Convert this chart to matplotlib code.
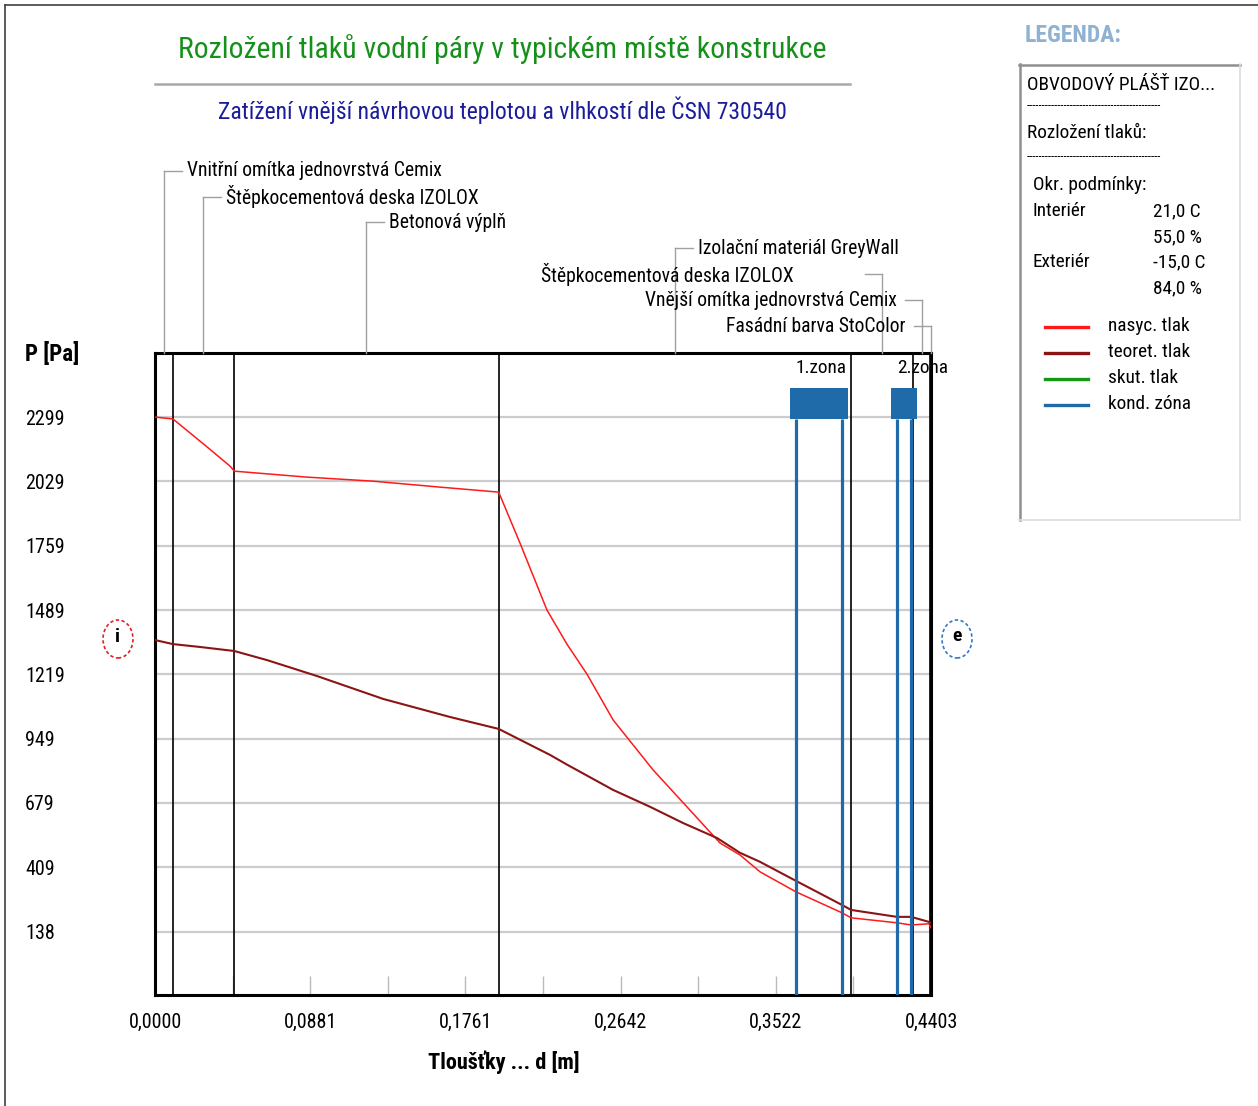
import matplotlib
matplotlib.use("Agg")
import matplotlib.pyplot as plt
from matplotlib import font_manager as fm
from matplotlib.patches import Ellipse, Rectangle
from matplotlib.lines import Line2D

# ---------------- data ----------------
layer_names = ["Vnitřní omítka jednovrstvá Cemix", "Štěpkocementová deska IZOLOX",
               "Betonová výplň", "Izolační materiál GreyWall",
               "Štěpkocementová deska IZOLOX", "Vnější omítka jednovrstvá Cemix",
               "Fasádní barva StoColor"]
layer_bounds = [0.0, 0.01, 0.045, 0.195, 0.395, 0.43, 0.44, 0.4403]

x_sat = [0.0, 0.0102, 0.0295, 0.0426, 0.045, 0.0862, 0.1237, 0.1617, 0.195, 0.2071,
         0.2224, 0.2338, 0.2451, 0.2599, 0.2826, 0.3018, 0.3206, 0.3319, 0.3433,
         0.3637, 0.3898, 0.395, 0.421, 0.429, 0.4391, 0.4403]
p_sat = [2299, 2291, 2174, 2093, 2072, 2047, 2030, 2005, 1984, 1770,
         1489, 1345, 1220, 1028, 818, 663, 511, 461, 390,
         306, 218, 197, 176, 167, 172, 155]

x_teor = [0.0, 0.0102, 0.0255, 0.045, 0.0635, 0.0919, 0.1294, 0.1674, 0.195, 0.2241,
          0.2338, 0.2599, 0.2809, 0.2996, 0.3189, 0.3319, 0.3433, 0.3637, 0.3898,
          0.395, 0.421, 0.429, 0.4391, 0.4403]
p_teor = [1363, 1346, 1334, 1317, 1279, 1212, 1116, 1040, 990, 881,
          840, 734, 663, 595, 532, 470, 432, 352, 251,
          230, 201, 201, 180, 176]

zone_start = [0.3637, 0.421]
zone_end = [0.3898, 0.429]
zone_labels = ["1.zona", "2.zona"]

y_ticks = [2299, 2029, 1759, 1489, 1219, 949, 679, 409, 138]
x_ticks = [0.0, 0.0881, 0.1761, 0.2642, 0.3522, 0.4403]
x_minor = [0.0440, 0.1321, 0.2201, 0.3082, 0.3962]
x_tick_labels = ["0,0000", "0,0881", "0,1761", "0,2642", "0,3522", "0,4403"]

title = "Rozložení tlaků vodní páry v typickém místě konstrukce"
subtitle = "Zatížení vnější návrhovou teplotou a vlhkostí dle ČSN 730540"
legend_items = ["nasyc. tlak", "teoret. tlak", "skut. tlak", "kond. zóna"]
legend_colors = ["#ff1a1a", "#8b1515", "#139a13", "#1f6aa8"]

# ---------------- fonts ----------------
names = {f.name for f in fm.fontManager.ttflist}
SC = 1.0 if "Roboto Condensed" in names else 0.82
plt.rcParams["font.family"] = ["Roboto Condensed", "Liberation Sans", "DejaVu Sans"]

W, H = 1258, 1106
fig = plt.figure(figsize=(W / 100, H / 100), dpi=100)


def fx(px):
    return px / W


def fy(py):
    return 1 - py / H


def ftext(px, py, s, size, **kw):
    fig.text(fx(px), fy(py), s, fontsize=size * SC, va="center", **kw)


# outer border (top & left)
fig.add_artist(Line2D([fx(5), 1], [fy(5), fy(5)], color="#404040", lw=1.2))
fig.add_artist(Line2D([fx(5), fx(5)], [fy(5), 0], color="#404040", lw=1.2))

# axes
L, R, T, B = 155, 931, 353, 995
ax = fig.add_axes([fx(L), fy(B), fx(R) - fx(L), fy(T) - fy(B)])
ax.set_xlim(0, 0.4403)
ax.set_ylim(-127, 2568)
for sp in ax.spines.values():
    sp.set_linewidth(2.2)
    sp.set_color("black")

TICK_FS = 14.4
ax.set_yticks(y_ticks)
ax.set_yticklabels([str(v) for v in y_ticks], fontsize=TICK_FS * SC)
ax.tick_params(axis="y", length=0, pad=(L - 25) * 0.72)
for lab in ax.get_yticklabels():
    lab.set_horizontalalignment("left")
ax.grid(axis="y", color="#cccccc", lw=1.6)

ax.set_xticks(x_ticks)
ax.set_xticklabels(x_tick_labels, fontsize=TICK_FS * SC)
ax.set_xticks(x_minor, minor=True)
ax.tick_params(axis="x", which="both", direction="in", length=14, width=1,
               color="#bbbbbb", pad=13)
ax.set_axisbelow(True)

# layer boundaries
for xb in layer_bounds[1:-1]:
    ax.axvline(xb, color="black", lw=1.2, zorder=2)

# curves
ax.plot(x_sat, p_sat, color=legend_colors[0], lw=1.1, zorder=4)
ax.plot(x_teor, p_teor, color=legend_colors[1], lw=1.5, zorder=4)

# condensation zones
for s, e, lab in zip(zone_start, zone_end, zone_labels):
    for xv in (s, e):
        ax.plot([xv, xv], [-127, 2291], color=legend_colors[3], lw=2.3, zorder=5,
                solid_capstyle="butt")
    pad = 0.0034
    ax.add_patch(Rectangle((s - pad, 2291), (e - s) + 2 * pad, 130,
                           color=legend_colors[3], zorder=5, lw=0))
    ax.text(s, 2505, lab, fontsize=13.9 * SC, ha="left", va="center", zorder=6,
            clip_on=False)

# layer labels with leaders
label_y = [171, 197, 222, 248, 274, 300, 326]
mids = [(layer_bounds[i] + layer_bounds[i + 1]) / 2 for i in range(len(layer_names))]
xpx = lambda xm: L + xm / 0.4403 * (R - L)
LAB_FS = 14.1
for i, (name, m, ly) in enumerate(zip(layer_names, mids, label_y)):
    mpx = xpx(m)
    line_kw = dict(color="#a0a0a0", lw=1.0, transform=fig.transFigure, clip_on=False)
    fig.add_artist(Line2D([fx(mpx), fx(mpx)], [fy(ly), fy(T)], **line_kw))
    if i < 4:
        fig.add_artist(Line2D([fx(mpx), fx(mpx + 18)], [fy(ly), fy(ly)], **line_kw))
        ftext(mpx + 23, ly, name, LAB_FS, ha="left")
    else:
        fig.add_artist(Line2D([fx(mpx - 17), fx(mpx)], [fy(ly), fy(ly)], **line_kw))
        end_px = [794, 897, 906][i - 4]
        ftext(end_px, ly, name, LAB_FS, ha="right")

# titles
ftext(502, 49, title, 21.4, ha="center", color="#16901a")
fig.add_artist(Line2D([fx(155), fx(850)], [fy(84), fy(84)], color="#a8a8a8", lw=1.8))
ftext(502, 110, subtitle, 17, ha="center", color="#1c1c9a")

# axis labels
ftext(25, 354, "P [Pa]", 16.5, ha="left", fontweight="bold")
ftext(504, 1062, "Tloušťky ... d [m]", 16, ha="center", fontweight="bold")

# interior / exterior markers
fig.add_artist(Ellipse((fx(118), fy(639)), fx(30), 38 / H, fill=False,
                       edgecolor="#e02020", ls=(0, (2, 1.5)), lw=1.2))
ftext(118, 637, "i", 14, ha="center", fontweight="bold")
fig.add_artist(Ellipse((fx(957), fy(639)), fx(30), 38 / H, fill=False,
                       edgecolor="#2f7ac0", ls=(0, (2, 1.5)), lw=1.2))
ftext(957, 636, "e", 14, ha="center", fontweight="bold")

# legend panel
ftext(1025, 36, "LEGENDA:", 17, ha="left", color="#8fb1d2", fontweight="bold")
fig.add_artist(Line2D([fx(1019), fx(1240)], [fy(65), fy(65)], color="#909090", lw=1.8))
fig.add_artist(Line2D([fx(1020), fx(1020)], [fy(64), fy(520)], color="#909090", lw=1.8))
fig.add_artist(Line2D([fx(1240), fx(1240)], [fy(64), fy(520)], color="#dddddd", lw=1.2))
fig.add_artist(Line2D([fx(1019), fx(1240)], [fy(520), fy(520)], color="#dddddd", lw=1.2))
LFS = 13.9
ftext(1027, 85, "OBVODOVÝ PLÁŠŤ IZO...", LFS, ha="left")
ftext(1027, 106, "-" * 43, 9, ha="left")
ftext(1027, 133, "Rozložení tlaků:", LFS, ha="left")
ftext(1027, 157, "-" * 43, 9, ha="left")
ftext(1033, 185, "Okr. podmínky:", LFS, ha="left")
ftext(1033, 211, "Interiér", LFS, ha="left")
ftext(1153, 211, "21,0 C", LFS, ha="left")
ftext(1153, 237, "55,0 %", LFS, ha="left")
ftext(1033, 262, "Exteriér", LFS, ha="left")
ftext(1153, 262, "-15,0 C", LFS, ha="left")
ftext(1153, 288, "84,0 %", LFS, ha="left")
for k, (lab, col) in enumerate(zip(legend_items, legend_colors)):
    yy = 327 + k * 26
    fig.add_artist(Line2D([fx(1045), fx(1088)], [fy(yy), fy(yy)], color=col, lw=2.4))
    ftext(1108, yy - 1, lab, LFS, ha="left")

fig.savefig("out.png", dpi=100)
